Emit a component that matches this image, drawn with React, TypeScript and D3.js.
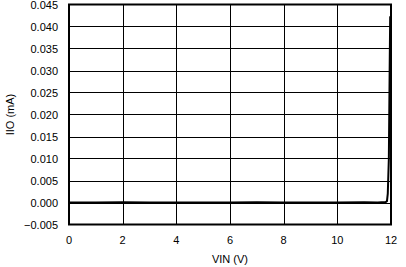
import React from "react";
import * as d3 from "d3";

const xTicks = [0, 2, 4, 6, 8, 10, 12];
const yTicks = [-0.005, 0, 0.005, 0.01, 0.015, 0.02, 0.025, 0.03, 0.035, 0.04, 0.045];
const vin = [0, 1, 2, 3, 4, 5, 6, 7, 8, 9, 10, 11, 11.5, 11.8, 11.85, 11.88, 11.92, 11.95, 11.97];
const iio = [0, 0, 0.00005, 0, 0, 0, 0, 0.00005, 0, 0, 0, 0.00005, 0, 0.0001, 0.0003, 0.002, 0.01, 0.03, 0.0423];

const W = 406;
const H = 267;
const M = { left: 69, right: 391, top: 4.5, bottom: 224.5 };
const FONT = "'Liberation Sans', Arial, Helvetica, sans-serif";

export default function App() {
  const x = d3.scaleLinear().domain([0, 12]).range([M.left, M.right]);
  const y = d3.scaleLinear().domain([-0.005, 0.045]).range([M.bottom, M.top]);
  const line = d3
    .line<number>()
    .x((_, i) => x(vin[i]))
    .y((d) => y(d));
  const fmt = (v: number) => (v < 0 ? "\u2212" : "") + Math.abs(v).toFixed(3);
  return (
    <div style={{ position: "fixed", left: 0, top: 0 }}>
      <svg width={W} height={H} style={{ display: "block", background: "#fff" }}>
        <g stroke="#000" strokeWidth={1} shapeRendering="crispEdges">
          {xTicks.slice(1, -1).map((t) => (
            <line key={"gx" + t} x1={Math.round(x(t)) + 0.5} x2={Math.round(x(t)) + 0.5} y1={M.top} y2={M.bottom} />
          ))}
          {yTicks.slice(1, -1).map((t) => (
            <line key={"gy" + t} x1={M.left} x2={M.right} y1={Math.round(y(t)) + 0.5} y2={Math.round(y(t)) + 0.5} />
          ))}
        </g>
        <path d={line(iio) || ""} fill="none" stroke="#000" strokeWidth={2} strokeLinejoin="round" />
        <rect x={M.left} y={M.top} width={M.right - M.left} height={M.bottom - M.top} fill="none" stroke="#000" strokeWidth={2} />
        <g fontFamily={FONT} fontSize={11} fill="#000">
          {yTicks.map((t) => (
            <text key={"ty" + t} x={58} y={y(t)} textAnchor="end" dominantBaseline="central">
              {fmt(t)}
            </text>
          ))}
          {xTicks.map((t) => (
            <text key={"tx" + t} x={x(t)} y={240} textAnchor="middle" dominantBaseline="central">
              {t}
            </text>
          ))}
          <text x={(M.left + M.right) / 2} y={259} textAnchor="middle" dominantBaseline="central">
            VIN (V)
          </text>
          <text transform={`translate(10,${(M.top + M.bottom) / 2}) rotate(-90)`} textAnchor="middle" dominantBaseline="central">
            IIO (mA)
          </text>
        </g>
      </svg>
    </div>
  );
}
